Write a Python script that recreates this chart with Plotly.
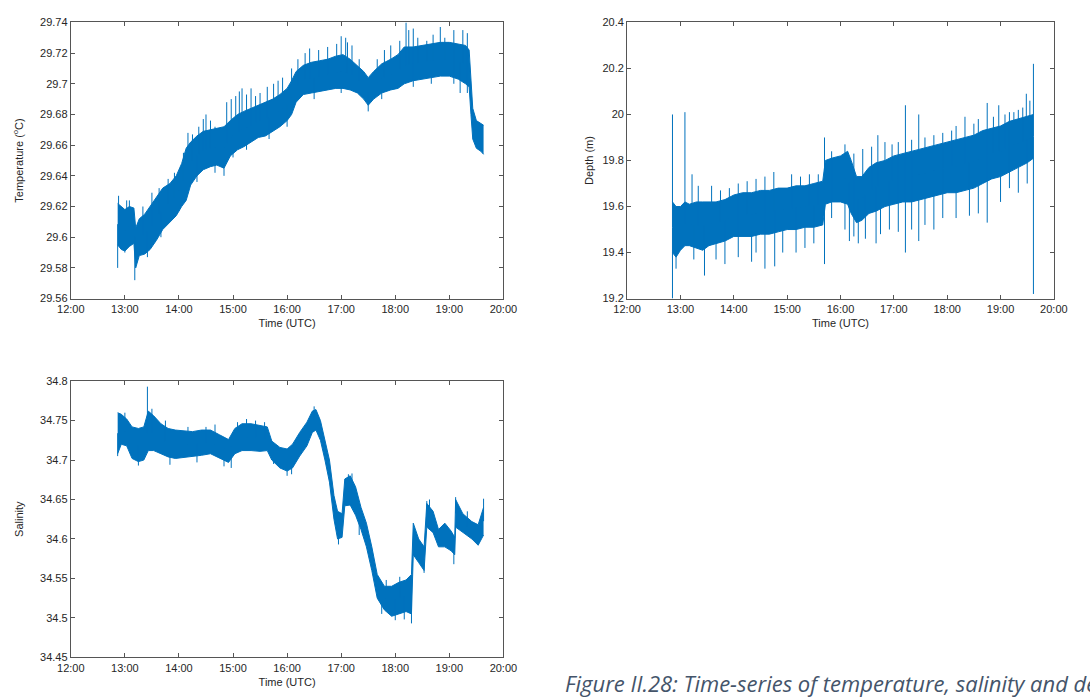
import numpy as np
import plotly.graph_objects as go

# ---------------- data (time of day, UTC) ----------------
temp_time = ["12:52", "12:56", "13:00", "13:05", "13:10", "13:12", "13:16", "13:22", "13:28", "13:35",
             "13:42", "13:50", "13:57", "14:03", "14:08", "14:13", "14:20", "14:27", "14:35", "14:42",
             "14:50", "14:57", "15:05", "15:12", "15:20", "15:28", "15:36", "15:44", "15:52", "16:00",
             "16:05", "16:10", "16:18", "16:27", "16:36", "16:45", "16:54", "17:02", "17:10", "17:18",
             "17:25", "17:30", "17:36", "17:45", "17:55", "18:03", "18:10", "18:20", "18:30", "18:40",
             "18:50", "19:00", "19:10", "19:18", "19:22", "19:24", "19:26", "19:30", "19:35", "19:38"]
temp_lo = [29.595, 29.592, 29.591, 29.594, 29.596, 29.580, 29.588, 29.589, 29.592, 29.598,
           29.605, 29.610, 29.614, 29.620, 29.624, 29.634, 29.640, 29.644, 29.646, 29.647,
           29.645, 29.653, 29.657, 29.659, 29.662, 29.665, 29.666, 29.669, 29.672, 29.676,
           29.680, 29.688, 29.693, 29.694, 29.695, 29.696, 29.697, 29.697, 29.696, 29.694,
           29.690, 29.686, 29.690, 29.694, 29.696, 29.697, 29.700, 29.702, 29.703, 29.704,
           29.705, 29.705, 29.703, 29.700, 29.698, 29.680, 29.664, 29.658, 29.656, 29.654]
temp_hi = [29.622, 29.620, 29.618, 29.620, 29.619, 29.606, 29.612, 29.615, 29.620, 29.626,
           29.632, 29.635, 29.640, 29.648, 29.658, 29.662, 29.666, 29.669, 29.670, 29.671,
           29.672, 29.676, 29.680, 29.682, 29.684, 29.686, 29.688, 29.690, 29.693, 29.697,
           29.702, 29.708, 29.712, 29.714, 29.715, 29.716, 29.718, 29.719, 29.716, 29.712,
           29.708, 29.704, 29.708, 29.713, 29.716, 29.719, 29.724, 29.724, 29.725, 29.726,
           29.727, 29.727, 29.726, 29.725, 29.722, 29.700, 29.684, 29.676, 29.674, 29.673]
temp_spike_time = ["12:52", "12:53", "13:05", "13:11", "13:30", "14:10", "14:30", "14:50", "14:58",
                   "15:10", "15:20", "15:45", "16:25", "17:00", "17:07", "17:30", "18:12", "18:15",
                   "18:50", "19:12", "19:15",
                   "13:02", "13:20", "13:38", "13:48", "13:55", "14:05", "14:15", "14:22", "14:27",
                   "14:35", "14:40", "14:53", "15:03", "15:07", "15:15", "15:25", "15:30", "15:38",
                   "15:50", "15:55", "16:05", "16:12", "16:20", "16:35", "16:45", "16:55", "17:05",
                   "17:12", "17:20", "17:40", "17:48", "17:55", "18:05", "18:20", "18:25", "18:35",
                   "18:42", "18:55", "19:05", "19:20",
                   "13:00", "13:25", "13:40", "14:00", "14:20", "14:40", "15:00", "15:15", "15:40",
                   "16:00", "16:30", "17:00", "17:45", "18:20", "18:40", "19:05", "19:20"]
temp_spike_val = [29.580, 29.627, 29.624, 29.572, 29.629, 29.668, 29.680, 29.640, 29.690,
                  29.697, 29.697, 29.700, 29.723, 29.731, 29.727, 29.682, 29.740, 29.735,
                  29.737, 29.694, 29.735,
                  29.624, 29.620, 29.632, 29.638, 29.642, 29.655, 29.667, 29.672, 29.677,
                  29.676, 29.672, 29.688, 29.692, 29.695, 29.693, 29.692, 29.694, 29.698,
                  29.702, 29.704, 29.710, 29.716, 29.720, 29.722, 29.724, 29.726, 29.730,
                  29.725, 29.716, 29.716, 29.722, 29.725, 29.728, 29.736, 29.730, 29.728,
                  29.732, 29.730, 29.735, 29.733,
                  29.590, 29.587, 29.600, 29.617, 29.636, 29.642, 29.652, 29.657, 29.664,
                  29.672, 29.690, 29.694, 29.690, 29.698, 29.700, 29.700, 29.694]

depth_time = ["12:51", "12:55", "13:00", "13:05", "13:10", "13:18", "13:25", "13:32", "13:40", "13:50",
              "14:00", "14:10", "14:20", "14:30", "14:40", "14:50", "15:00", "15:10", "15:20", "15:30",
              "15:40", "15:43", "15:50", "16:00", "16:08", "16:12", "16:18", "16:24", "16:32", "16:40",
              "16:50", "17:00", "17:10", "17:20", "17:30", "17:40", "17:50", "18:00", "18:10", "18:20",
              "18:30", "18:40", "18:50", "19:00", "19:10", "19:20", "19:30", "19:37"]
depth_lo = [19.40, 19.38, 19.41, 19.43, 19.43, 19.42, 19.41, 19.43, 19.44, 19.45,
            19.47, 19.47, 19.47, 19.48, 19.48, 19.49, 19.50, 19.50, 19.51, 19.51,
            19.52, 19.61, 19.62, 19.62, 19.61, 19.57, 19.53, 19.54, 19.57, 19.58,
            19.60, 19.61, 19.62, 19.62, 19.63, 19.64, 19.65, 19.66, 19.66, 19.67,
            19.68, 19.70, 19.72, 19.73, 19.75, 19.77, 19.79, 19.81]
depth_hi = [19.62, 19.60, 19.60, 19.62, 19.61, 19.62, 19.62, 19.62, 19.62, 19.63,
            19.65, 19.66, 19.66, 19.67, 19.67, 19.68, 19.68, 19.69, 19.69, 19.70,
            19.71, 19.80, 19.81, 19.82, 19.84, 19.80, 19.73, 19.73, 19.77, 19.79,
            19.80, 19.82, 19.83, 19.84, 19.85, 19.86, 19.87, 19.88, 19.89, 19.90,
            19.91, 19.93, 19.94, 19.95, 19.97, 19.98, 19.99, 20.00]
depth_spike_time = ["12:51", "13:05", "13:13", "13:20", "14:15", "14:35", "14:45", "15:05", "15:42",
                    "16:25", "16:42", "16:58", "17:13", "17:28", "17:55", "18:20", "18:45", "18:58",
                    "19:10", "19:29", "19:33", "19:37",
                    "13:35", "13:45", "13:55", "14:05", "14:25", "15:15", "15:25", "15:35", "15:50",
                    "16:05", "16:15", "16:35", "16:50", "17:05", "17:20", "17:35", "17:45", "18:05",
                    "18:10", "18:30", "18:35", "18:52", "19:05", "19:15", "19:20", "19:25",
                    "12:51", "12:55", "13:27", "13:50", "14:20", "14:35", "14:46", "15:10", "15:42",
                    "16:10", "16:20", "16:40", "17:13", "17:28", "17:45", "18:45", "19:10", "19:37",
                    "13:15", "13:40", "14:05", "14:25", "14:55", "15:20", "15:30", "15:50", "16:05",
                    "16:15", "16:28", "16:45", "16:55", "17:05", "17:20", "17:35", "17:55", "18:10",
                    "18:25", "18:35", "19:00", "19:20", "19:30"]
depth_spike_val = [20.00, 20.01, 19.74, 19.69, 19.71, 19.73, 19.75, 19.74, 19.90,
                   19.85, 19.91, 19.87, 20.04, 20.00, 19.92, 19.99, 20.05, 20.04,
                   20.01, 20.09, 20.06, 20.22,
                   19.69, 19.67, 19.68, 19.70, 19.72, 19.73, 19.74, 19.74, 19.84,
                   19.87, 19.83, 19.86, 19.88, 19.88, 19.89, 19.90, 19.91, 19.93,
                   19.95, 19.96, 19.98, 19.99, 20.00, 20.01, 20.02, 20.03,
                   19.20, 19.33, 19.30, 19.35, 19.36, 19.33, 19.34, 19.40, 19.35,
                   19.45, 19.44, 19.44, 19.40, 19.45, 19.50, 19.53, 19.68, 19.22,
                   19.37, 19.37, 19.38, 19.40, 19.40, 19.42, 19.44, 19.55, 19.50,
                   19.47, 19.46, 19.48, 19.50, 19.49, 19.50, 19.52, 19.55, 19.55,
                   19.56, 19.57, 19.62, 19.66, 19.70]

sal_time = ["12:52", "12:56", "13:02", "13:08", "13:15", "13:21", "13:26", "13:32", "13:40", "13:48",
            "13:56", "14:05", "14:15", "14:25", "14:35", "14:45", "14:55", "15:02", "15:10", "15:20",
            "15:30", "15:38", "15:43", "15:52", "16:00", "16:06", "16:14", "16:22", "16:28", "16:32",
            "16:37", "16:42", "16:47", "16:52", "16:56", "17:01", "17:04", "17:10", "17:16", "17:22",
            "17:28", "17:34", "17:40", "17:48", "17:56", "18:04", "18:12", "18:18", "18:20", "18:26",
            "18:32", "18:35", "18:42", "18:48", "18:55", "19:02", "19:06", "19:07", "19:15", "19:25",
            "19:32", "19:38"]
sal_lo = [34.708, 34.720, 34.718, 34.702, 34.698, 34.700, 34.712, 34.712, 34.708, 34.704,
          34.702, 34.703, 34.704, 34.706, 34.708, 34.703, 34.697, 34.708, 34.712, 34.712,
          34.711, 34.712, 34.700, 34.690, 34.686, 34.690, 34.705, 34.718, 34.735, 34.738,
          34.725, 34.700, 34.672, 34.625, 34.600, 34.602, 34.642, 34.643, 34.630, 34.612,
          34.590, 34.560, 34.525, 34.510, 34.502, 34.505, 34.508, 34.505, 34.580, 34.570,
          34.560, 34.615, 34.608, 34.590, 34.590, 34.585, 34.580, 34.615, 34.608, 34.600,
          34.592, 34.605]
sal_hi = [34.760, 34.758, 34.752, 34.742, 34.740, 34.742, 34.762, 34.756, 34.746, 34.740,
          34.738, 34.737, 34.736, 34.738, 34.738, 34.732, 34.726, 34.740, 34.746, 34.746,
          34.744, 34.742, 34.724, 34.716, 34.714, 34.720, 34.735, 34.748, 34.762, 34.764,
          34.750, 34.725, 34.700, 34.655, 34.635, 34.632, 34.676, 34.680, 34.666, 34.640,
          34.620, 34.590, 34.555, 34.540, 34.540, 34.545, 34.548, 34.555, 34.620, 34.600,
          34.590, 34.645, 34.635, 34.612, 34.620, 34.610, 34.602, 34.650, 34.632, 34.622,
          34.618, 34.640]
sal_spike_time = ["13:25", "16:30", "17:08", "18:35", "19:07", "19:38",
                  "13:00", "13:30", "13:45", "14:10", "14:30", "14:40", "15:05", "15:15", "15:25",
                  "15:35", "17:12", "17:50", "18:05", "18:38", "19:10", "19:20",
                  "12:52", "14:58", "16:00", "16:57", "18:00", "18:18", "18:32", "19:05",
                  "13:15", "13:50", "14:20", "14:50", "15:45", "16:05", "17:20", "17:45", "18:10"]
sal_spike_val = [34.793, 34.768, 34.682, 34.648, 34.653, 34.651,
                 34.760, 34.765, 34.750, 34.742, 34.742, 34.745, 34.748, 34.752, 34.750,
                 34.748, 34.683, 34.548, 34.552, 34.650, 34.640, 34.635,
                 34.705, 34.690, 34.680, 34.593, 34.497, 34.493, 34.557, 34.568,
                 34.693, 34.694, 34.697, 34.692, 34.695, 34.682, 34.605, 34.505, 34.498]

x_tick_vals = [12, 13, 14, 15, 16, 17, 18, 19, 20]
x_tick_text = ["12:00", "13:00", "14:00", "15:00", "16:00", "17:00", "18:00", "19:00", "20:00"]

caption = "Figure II.28: Time-series of temperature, salinity and depth"

# ---------------- helpers ----------------
BLUE = "#0072BD"
W, H = 1090, 698


def hours(labels):
    return np.array([int(s[:2]) + int(s[3:]) / 60 for s in labels])


def add_series(fig, t, lo, hi, st, sv, xa, ya):
    t = hours(t)
    lo = np.asarray(lo)
    hi = np.asarray(hi)
    fig.add_trace(go.Scatter(x=t, y=hi, mode="lines", line=dict(color=BLUE, width=1),
                             xaxis=xa, yaxis=ya, showlegend=False, hoverinfo="skip"))
    fig.add_trace(go.Scatter(x=t, y=lo, mode="lines", line=dict(color=BLUE, width=1),
                             fill="tonexty", fillcolor=BLUE,
                             xaxis=xa, yaxis=ya, showlegend=False, hoverinfo="skip"))
    # isolated excursions rising from / dropping out of the main band
    sx, sy = [], []
    mid = (lo + hi) / 2
    for tt, vv in zip(hours(st), sv):
        base = float(np.interp(tt, t, mid))
        sx += [tt, tt, None]
        sy += [base, vv, None]
    fig.add_trace(go.Scatter(x=sx, y=sy, mode="lines", line=dict(color=BLUE, width=1),
                             xaxis=xa, yaxis=ya, showlegend=False, hoverinfo="skip"))


fig = go.Figure()
add_series(fig, temp_time, temp_lo, temp_hi, temp_spike_time, temp_spike_val, "x", "y")
add_series(fig, depth_time, depth_lo, depth_hi, depth_spike_time, depth_spike_val, "x2", "y2")
add_series(fig, sal_time, sal_lo, sal_hi, sal_spike_time, sal_spike_val, "x3", "y3")

FONT = "Liberation Sans, Arial, sans-serif"
axis_common = dict(showline=True, linecolor="#555555", linewidth=1, mirror="ticks",
                   ticks="inside", ticklen=4, tickcolor="#555555", showgrid=False,
                   zeroline=False, tickfont=dict(family=FONT, size=11, color="#262626"))


def px_x(a, b):
    return [a / W, b / W]


def px_y(top, bottom):
    return [1 - bottom / H, 1 - top / H]


xa = dict(range=[12, 20], tickvals=x_tick_vals, ticktext=x_tick_text, **axis_common)
title_font = dict(family=FONT, size=11, color="#262626")

fig.update_layout(
    width=W, height=H, margin=dict(l=0, r=0, t=0, b=0),
    paper_bgcolor="white", plot_bgcolor="white",
    xaxis=dict(domain=px_x(58.3, 502.3), anchor="y",
               title=dict(text="Time (UTC)", font=title_font, standoff=5), **xa),
    yaxis=dict(domain=px_y(16.7, 297.7), anchor="x", range=[29.56, 29.74], dtick=0.02,
               title=dict(text="Temperature (<sup>o</sup>C)", font=title_font, standoff=14),
               **axis_common),
    xaxis2=dict(domain=px_x(629.3, 1067.3), anchor="y2",
                title=dict(text="Time (UTC)", font=title_font, standoff=5), **xa),
    yaxis2=dict(domain=px_y(16.7, 297.7), anchor="x2", range=[19.2, 20.4], dtick=0.2,
                title=dict(text="Depth (m)", font=title_font, standoff=6), **axis_common),
    xaxis3=dict(domain=px_x(58.3, 502.3), anchor="y3",
                title=dict(text="Time (UTC)", font=title_font, standoff=5), **xa),
    yaxis3=dict(domain=px_y(381.7, 662.7), anchor="x3", range=[34.45, 34.8], dtick=0.05,
                title=dict(text="Salinity", font=title_font, standoff=14), **axis_common),
)

fig.add_annotation(text="<i>" + caption + "</i>", xref="paper", yref="paper",
                   x=563 / W, y=9 / H, xanchor="left", yanchor="middle",
                   showarrow=False, font=dict(family="Open Sans", size=22, color="#44546A"))

fig.write_html("out.html")
